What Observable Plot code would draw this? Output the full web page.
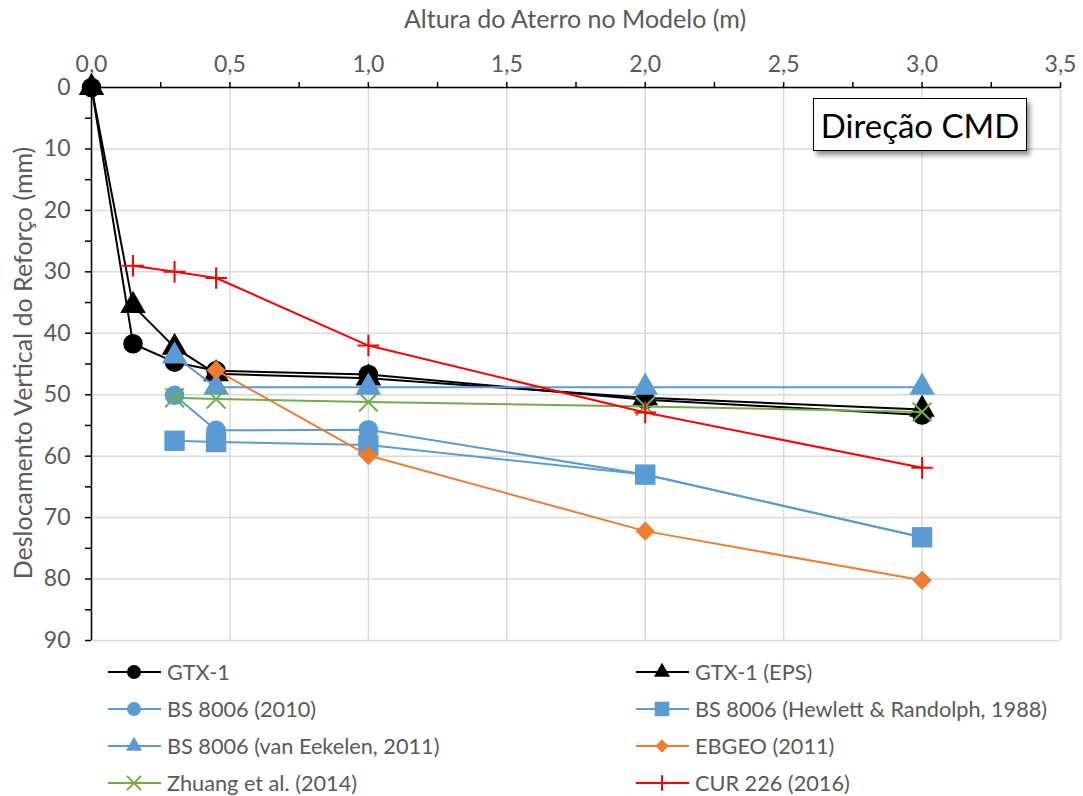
<!DOCTYPE html>
<html><head><meta charset="utf-8">
<script src="https://cdn.jsdelivr.net/npm/d3@7"></script>
<script src="https://cdn.jsdelivr.net/npm/@observablehq/plot@0.6"></script>
<style>
body{margin:0;background:#fff;font-family:Lato,"Open Sans",sans-serif;}
#wrap{position:relative;width:1083px;height:796px;overflow:hidden;}
.title{position:absolute;color:#595959;font-size:25px;white-space:nowrap;line-height:1;}
#box{position:absolute;left:813px;top:98px;width:212px;height:51px;border:1.5px solid #000;background:#fff;
 box-shadow:3px 4px 5px rgba(0,0,0,0.45);font-size:33px;color:#000;display:flex;align-items:center;justify-content:center;}
#legend{position:absolute;left:0;top:650px;width:1083px;height:146px;}
.li{position:absolute;display:flex;align-items:center;font-size:21.7px;color:#595959;white-space:nowrap;}
.li svg{margin-right:6px;}
</style></head><body><div id="wrap"></div>
<script>
// ---- data ----
const seriesNames = ["GTX-1","GTX-1 (EPS)","BS 8006 (2010)","BS 8006 (Hewlett & Randolph, 1988)","BS 8006 (van Eekelen, 2011)","EBGEO (2011)","Zhuang et al. (2014)","CUR 226 (2016)"];
const hGTX = [0, 0.15, 0.3, 0.45, 1.0, 2.0, 3.0];
const gtx1 = [0, 41.7, 44.7, 46.1, 46.7, 50.8, 53.3];
const gtx1Eps = [0, 35.5, 42.3, 46.6, 47.3, 50.5, 52.4];
const hBS = [0.3, 0.45, 1.0, 2.0, 3.0];
const bs2010 = [50.1, 55.8, 55.7, 63.0, 73.2];
const bsHR = [57.5, 57.7, 58.2, 63.0, 73.2];
const bsVE = [43.7, 48.8, 48.8, 48.8, 48.8];
const hEBGEO = [0.45, 1.0, 2.0, 3.0];
const ebgeo = [46.0, 59.9, 72.2, 80.2];
const hZhuang = [0.3, 0.45, 1.0, 2.0, 3.0];
const zhuang = [50.5, 50.7, 51.2, 51.9, 52.8];
const hCUR = [0.15, 0.3, 0.45, 1.0, 2.0, 3.0];
const cur = [29.0, 30.0, 31.0, 42.0, 52.9, 61.9];
const xTicks = [0, 0.5, 1.0, 1.5, 2.0, 2.5, 3.0, 3.5];
const xMinor = [0.25, 0.75, 1.25, 1.75, 2.25, 2.75, 3.25];
const yTicks = [0, 10, 20, 30, 40, 50, 60, 70, 80, 90];
const yMinor = [5, 15, 25, 35, 45, 55, 65, 75, 85];

const styles = [
  {xs:hGTX, ys:gtx1, color:"#000000", symbol:"circle", r:9.8, lr:7},
  {xs:hGTX, ys:gtx1Eps, color:"#000000", symbol:"triangle", r:9.5, lr:6},
  {xs:hBS, ys:bs2010, color:"#5b9bd5", symbol:"circle", r:9.8, lr:7},
  {xs:hBS, ys:bsHR, color:"#5b9bd5", symbol:"square", r:11.5, lr:8.2},
  {xs:hBS, ys:bsVE, color:"#5b9bd5", symbol:"triangle", r:9.5, lr:6},
  {xs:hEBGEO, ys:ebgeo, color:"#ed7d31", symbol:"diamond2", r:8.7, lr:6},
  {xs:hZhuang, ys:zhuang, color:"#70ad47", symbol:"times", r:8.6, lr:6.5, stroke:true},
  {xs:hCUR, ys:cur, color:"#ff0000", symbol:"plus", r:7, lr:5, stroke:true}
];

const fmt = d => d.toFixed(1).replace(".", ",");
const marks = [
  Plot.gridX(xTicks, {stroke:"#d9d9d9", strokeOpacity:1, strokeWidth:1.5}),
  Plot.gridY(yTicks, {stroke:"#d9d9d9", strokeOpacity:1, strokeWidth:1.5}),
  Plot.axisX(xTicks, {anchor:"top", tickSize:6, tickPadding:10, tickFormat:fmt, fontSize:23, fill:"#595959", stroke:"#000", strokeWidth:1.5, label:null}),
  Plot.axisX(xMinor, {anchor:"top", tickSize:6, tickFormat:()=>"", stroke:"#000", strokeWidth:1.5, label:null}),
  Plot.axisY(yTicks, {anchor:"left", tickSize:6, tickPadding:15, fontSize:23, fill:"#595959", stroke:"#000", strokeWidth:1.5, label:null}),
  Plot.axisY(yMinor, {anchor:"left", tickSize:6, tickFormat:()=>"", stroke:"#000", strokeWidth:1.5, label:null}),
  Plot.ruleX([0], {stroke:"#000", strokeWidth:1.5}),
  Plot.ruleY([0], {stroke:"#000", strokeWidth:1.5})
];
styles.forEach((s, k) => {
  const data = s.xs.map((x, i) => ({x, y: s.ys[i], name: seriesNames[k]}));
  marks.push(Plot.line(data, {x:"x", y:"y", stroke:s.color, strokeWidth:2}));
  if (s.stroke) marks.push(Plot.dot(data, {x:"x", y:"y", symbol:s.symbol, r:s.r, stroke:s.color, strokeWidth:2, fill:"none"}));
  else marks.push(Plot.dot(data, {x:"x", y:"y", symbol:s.symbol, r:s.r, fill:s.color, stroke:"none"}));
});

const plot = Plot.plot({
  width:1083, height:650,
  marginTop:87, marginLeft:91, marginRight:23, marginBottom:10,
  x:{domain:[0,3.5]},
  y:{domain:[0,90], reverse:true},
  style:{fontFamily:"Lato, 'Open Sans', sans-serif", background:"#fff", overflow:"visible"},
  marks
});
const wrap = document.getElementById("wrap");
wrap.appendChild(plot);

// titles
const xt = document.createElement("div");
xt.className = "title"; xt.textContent = "Altura do Aterro no Modelo (m)";
xt.style.left = "575px"; xt.style.top = "6px"; xt.style.transform = "translateX(-50%)";
wrap.appendChild(xt);
const yt = document.createElement("div");
yt.className = "title"; yt.textContent = "Deslocamento Vertical do Reforço (mm)";
yt.style.left = "22px"; yt.style.top = "363px"; yt.style.transform = "translate(-50%,-50%) rotate(-90deg)";
wrap.appendChild(yt);
const box = document.createElement("div"); box.id = "box"; box.textContent = "Direção CMD";
wrap.appendChild(box);

// legend
const legend = document.createElement("div"); legend.id = "legend"; wrap.appendChild(legend);
const symMap = {circle:d3.symbolCircle, triangle:d3.symbolTriangle, square:d3.symbolSquare, diamond2:d3.symbolDiamond2, times:d3.symbolTimes, plus:d3.symbolPlus};
styles.forEach((s, k) => {
  const col = k % 2, row = Math.floor(k / 2);
  const item = document.createElement("div"); item.className = "li";
  item.style.left = (col ? 636 : 108) + "px";
  item.style.top = (21.5 + row * 37.3 - 14) + "px";
  item.style.height = "28px";
  const path = d3.symbol(symMap[s.symbol], Math.PI * s.lr * s.lr)();
  item.innerHTML = `<svg width="53" height="28"><line x1="0" x2="53" y1="14" y2="14" stroke="${s.color}" stroke-width="2"/>` +
    `<path transform="translate(26,14)" d="${path}" fill="${s.stroke ? "none" : s.color}" stroke="${s.stroke ? s.color : "none"}" stroke-width="2"/></svg><span>${seriesNames[k].replace("&","&amp;")}</span>`;
  legend.appendChild(item);
});
</script></body></html>
